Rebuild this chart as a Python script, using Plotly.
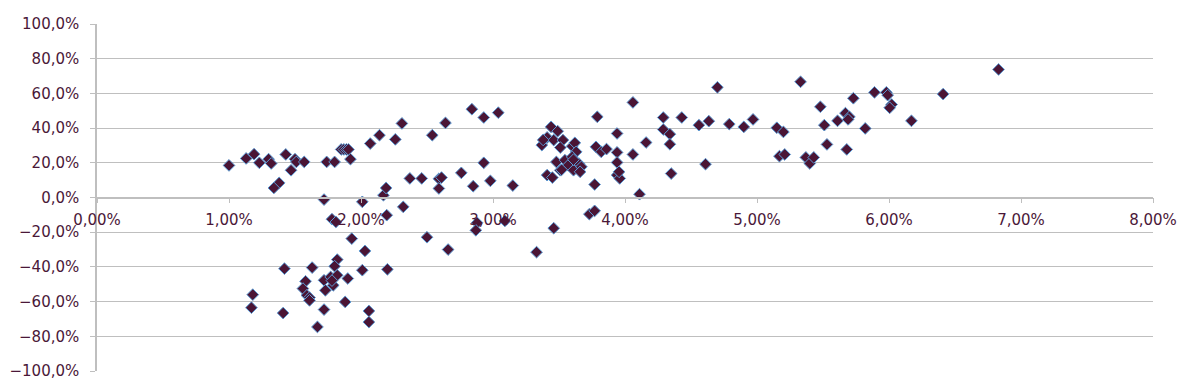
import numpy as np
import plotly.graph_objects as go

# x: values in percent, y: values in percent
x_pct = [
    1.00, 1.13, 1.19, 1.23, 1.30, 1.32, 1.38, 1.34, 1.43, 1.47, 1.50, 1.51, 1.57,
    1.72, 1.74, 1.80, 1.78, 1.81, 1.85, 1.87, 1.89, 1.905, 1.92, 1.93, 2.01, 2.07,
    2.14, 2.17, 2.19, 2.195, 2.26, 2.31, 2.32, 2.37, 2.46, 2.50, 2.54, 2.59, 2.59,
    2.61, 2.64, 2.76, 2.84, 2.85, 2.93, 2.93, 2.98, 3.04, 2.88, 2.87, 3.09, 3.15,
    3.33, 3.46, 3.73, 3.77,
    1.18, 1.17, 1.42, 1.41, 1.58, 1.56, 1.59, 1.61, 1.61, 1.63, 1.67, 1.72, 1.73,
    1.72, 1.77, 1.79, 1.82, 1.80, 1.82, 1.90, 1.88, 2.01, 2.03, 2.06, 2.06, 2.20,
    2.66, 1.78,
    3.37, 3.41, 3.44, 3.49, 3.46, 3.53, 3.51, 3.41, 3.45, 3.48, 3.51, 3.545, 3.57,
    3.60, 3.62, 3.63, 3.60, 3.61, 3.65, 3.67, 3.66, 3.77, 3.79, 3.78, 3.82, 3.86,
    3.94, 3.94, 3.94, 3.94, 3.96, 3.955, 4.06, 4.06, 4.11, 4.16, 3.52, 3.61, 3.38,
    4.29, 4.29, 4.34, 4.34, 4.35, 4.43, 4.56, 4.61, 4.635, 4.70, 4.79, 4.90, 4.97,
    5.15, 5.20, 5.17, 5.21, 5.33, 5.37, 5.40, 5.43, 5.48, 5.51, 5.53, 5.61, 5.67,
    5.68, 5.70, 5.69, 5.73, 5.82, 5.89, 5.98, 5.99, 6.02, 6.005, 6.17, 6.41, 6.83,
]
y_pct = [
    18.5, 22.5, 25.0, 20.0, 22.1, 19.6, 8.4, 5.5, 24.8, 15.7, 22.1, 20.5, 20.5,
    -1.2, 20.5, 20.5, -12.5, -14.1, 27.7, 27.7, 27.7, 27.7, 22.1, -23.7, -2.5, 31.1,
    35.9, 1.3, 5.5, -10.2, 33.5, 42.7, -5.4, 11.0, 11.0, -22.9, 35.9, 10.8, 5.2,
    11.5, 43.0, 14.2, 50.9, 6.5, 46.1, 20.0, 9.6, 48.9, -14.6, -18.9, -13.5, 6.9,
    -31.5, -17.7, -9.6, -7.7,
    -56.0, -63.5, -41.0, -66.6, -48.3, -52.5, -56.4, -57.7, -59.3, -40.4, -74.6, -47.7, -53.5,
    -64.6, -45.8, -50.6, -35.8, -39.6, -44.8, -46.7, -60.2, -41.9, -30.8, -65.4, -71.8, -41.4,
    -30.0, -47.9,
    30.2, 34.6, 40.7, 38.2, 33.1, 33.1, 28.8, 12.9, 11.5, 20.5, 15.7, 21.5, 18.6,
    29.6, 31.5, 26.3, 23.4, 15.7, 19.6, 17.7, 14.8, 7.5, 46.5, 29.2, 26.3, 27.9,
    36.9, 26.0, 20.2, 12.9, 11.0, 14.8, 24.8, 54.8, 1.9, 31.7, 16.0, 21.8, 33.2,
    46.1, 39.2, 36.5, 30.7, 13.8, 46.1, 41.7, 19.2, 44.0, 63.5, 42.3, 40.7, 45.0,
    40.2, 37.8, 23.8, 24.8, 66.7, 23.1, 19.6, 23.1, 52.3, 41.7, 30.6, 44.2, 48.6,
    27.7, 46.5, 45.0, 57.2, 39.8, 60.6, 60.6, 59.0, 53.6, 51.7, 44.2, 59.6, 73.8,
]

x_vals = np.array(x_pct) / 100.0
y_vals = np.array(y_pct) / 100.0

TEXT = "#4a1838"
GRID = "#bfbfbf"
FONT = "DejaVu Sans"

fig = go.Figure(
    go.Scatter(
        x=x_vals, y=y_vals, mode="markers",
        marker=dict(symbol="diamond", size=9, color="#4a1535",
                    line=dict(color="#5b9bd5", width=1)),
        hoverinfo="x+y",
    )
)

fig.update_layout(
    width=1200, height=390,
    margin=dict(l=89, r=55, t=16, b=27),
    paper_bgcolor="white", plot_bgcolor="white",
    separators=", ",
    showlegend=False,
    font=dict(family=FONT, size=15, color=TEXT),
    xaxis=dict(
        range=[0, 0.08], dtick=0.01, tick0=0, tickformat=".2%",
        showgrid=False, zeroline=False, automargin=False,
        showline=True, linecolor=GRID, linewidth=1.5,
        ticks="outside", ticklen=5, tickcolor=GRID, tickwidth=1,
        ticklabelstandoff=4,
        anchor="free", position=0.5,
        tickfont=dict(family=FONT, size=15, color=TEXT),
    ),
    yaxis=dict(
        range=[-1, 1], dtick=0.2, tick0=-1, tickformat=".1%",
        showgrid=True, gridcolor=GRID, gridwidth=1,
        zeroline=False, automargin=False,
        showline=True, linecolor=GRID, linewidth=1.5,
        ticks="outside", ticklen=5, tickcolor=GRID, tickwidth=1,
        ticklabelstandoff=8,
        tickfont=dict(family=FONT, size=15, color=TEXT),
    ),
)

fig.write_html("out.html")
